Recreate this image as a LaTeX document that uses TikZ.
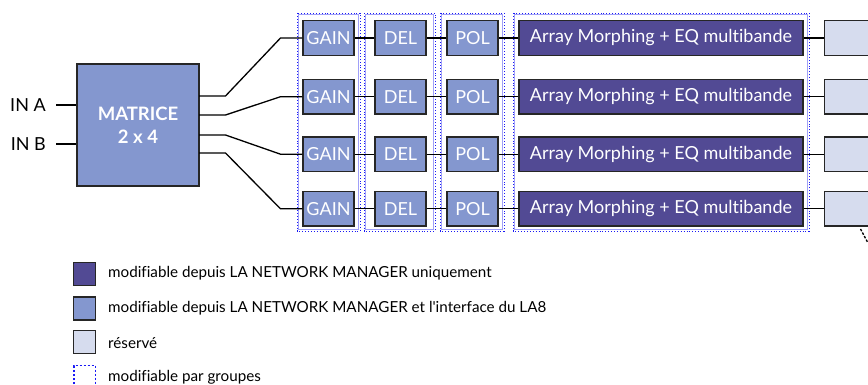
\documentclass[tikz,border=0pt]{standalone}
\usepackage{fontspec}
\setmainfont{Lato}[Ligatures=NoCommon]
\newfontfamily\legfont{Lato}[Ligatures=NoCommon]
\definecolor{dkp}{HTML}{524A94}
\definecolor{mdp}{HTML}{8497CF}
\definecolor{ltp}{HTML}{D6DCEE}
\definecolor{grp}{HTML}{1A1AF5}
\definecolor{grpl}{HTML}{A0A0F8}
\begin{document}
\begin{tikzpicture}[x=1pt,y=-1pt,
  blk/.style={draw=black!85,line width=1.3pt,inner sep=0pt,minimum height=34.5pt,text=white,font=\fontsize{18}{18}\selectfont},
  med/.style={blk,fill=mdp,minimum width=51pt},
  arr/.style={blk,fill=dkp,minimum width=284pt},
  res/.style={blk,fill=ltp,minimum width=56pt},
  wire/.style={line width=1.3pt,black},
  lab/.style={font=\fontsize{18}{18}\selectfont,inner sep=0pt},
  leg/.style={font=\legfont\fontsize{15.2}{15.2}\selectfont,inner sep=0pt,anchor=west},
  legbox/.style={draw=black!85,line width=1.3pt,minimum width=22pt,minimum height=23pt,inner sep=0pt},
  grpbox/.style={draw=grp,line width=0.9pt,dotted},
  grpin/.style={draw=grpl,line width=0.6pt}]
\useasboundingbox (0,0) rectangle (868,385);
\clip (0,0) rectangle (868,385);
% group frames
\foreach \a/\b in {297/360,364/435,440/504,513/809}{
  \draw[grpin] (\a+1.5,14.5) rectangle (\b-1.5,229.5);
  \draw[grpbox] (\a,13) rectangle (\b,231);
}
% matrix
\node[draw=black!85,line width=1.3pt,fill=mdp,minimum width=122pt,minimum height=122pt,inner sep=0pt] (mat) at (138,125) {};
\node[text=white,font=\bfseries\fontsize{18.5}{18.5}\selectfont,align=center,inner sep=0pt] (mt) at (138,125) {MATRICE\\[4pt]2 x 4};
\node[lab,anchor=east] (ina) at (46,105) {IN A};
\node[lab,anchor=east] (inb) at (46,144) {IN B};
\coordinate (ia) at (56,105);
\coordinate (ib) at (56,144);
\draw[wire] (ia) -- (ia-|mat.west);
\draw[wire] (ib) -- (ib-|mat.west);
% rows
\foreach \i/\y/\o in {1/38/96,2/96.7/115,3/154.2/135,4/208.8/153}{
  \node[med] (g\i) at (328.5,\y) {GAIN};
  \node[med] (d\i) at (400.5,\y) {DEL};
  \node[med] (p\i) at (472.5,\y) {POL};
  \node[arr] (a\i) at (661,\y) {Array Morphing + EQ multibande};
  \node[res,anchor=west] (r\i) at (824,\y) {};
  \coordinate (m\i) at (199,\o);
  \draw[wire] (m\i) -- (225.5,\o) -- (280.5,\y) -- (g\i.west);
  \draw[wire] (g\i) -- (d\i);
  \draw[wire] (d\i) -- (p\i);
  \draw[wire] (p\i) -- (a\i);
  \draw[wire] (a\i) -- (r\i);
}
\coordinate (x1) at (860.5,229);
\coordinate (x2) at (868,243);
\draw[line width=1.3pt,dash pattern=on 2.5pt off 1.5pt] (x1) -- (x2);
% legend
\node[legbox,fill=dkp] (l1) at (84.5,274) {};
\node[legbox,fill=mdp] (l2) at (84.5,308.5) {};
\node[legbox,fill=ltp] (l3) at (84.5,342) {};
\draw[grp,line width=1.5pt,dash pattern=on 2.5pt off 1.5pt] (74,392) -- (74,365.5) -- (95.5,365.5) -- (95.5,392);
\node[leg] (t1) at (108,273) {modifiable depuis LA NETWORK MANAGER uniquement};
\node[leg] (t2) at (108,308) {modifiable depuis LA NETWORK MANAGER et l'interface du LA8};
\node[leg] (t3) at (108,343) {réservé};
\node[leg] (t4) at (108,377) {modifiable par groupes};
\end{tikzpicture}
\end{document}
